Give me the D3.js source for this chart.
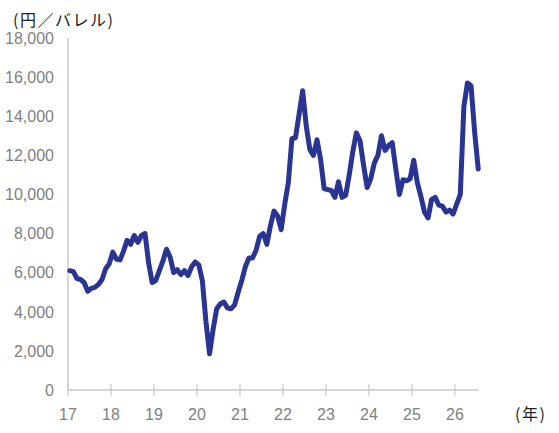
<!DOCTYPE html>
<html><head><meta charset="utf-8">
<script src="https://cdn.jsdelivr.net/npm/d3@7"></script>
<style>body{margin:0;background:#fff}svg{display:block}</style>
</head><body>
<script>
// Monthly values (円/バレル), Jan 2017 onward
const values = [
 6100,6050,5700,5650,5500,5050,5200,5250,5400,5650,6200,6450,
 7050,6700,6650,7100,7650,7450,7900,7550,7900,8000,6500,5500,
 5600,6100,6600,7200,6800,6000,6150,5900,6100,5850,6300,6550,
 6400,5600,3500,1850,3100,4150,4400,4500,4200,4150,4350,5000,
 5600,6300,6750,6750,7150,7850,8000,7450,8400,9150,8900,8200,
 9500,10600,12850,12900,14100,15300,13500,12300,12000,12800,11800,10300,
 10250,10200,9850,10650,9850,9950,11000,12200,13150,12750,11500,10350,
 10800,11600,12000,13000,12250,12500,12650,11300,10000,10750,10700,10800,
 11750,10600,9900,9100,8800,9750,9850,9450,9400,9100,9200,9000,
 9500,10000,14500,15700,15550,13200,11300
];
const startYear = 17;
const yearTicks = [17,18,19,20,21,22,23,24,25,26];
const yTicks = [0,2000,4000,6000,8000,10000,12000,14000,16000,18000];
const yLabel = "(円／バレル)";
const xLabel = "(年)";

const W = 559, H = 433;
const svg = d3.select("body").append("svg").attr("width", W).attr("height", H);
const x = d3.scaleLinear().domain([17, 26.56]).range([68, 479]);
const y = d3.scaleLinear().domain([0, 18000]).range([390, 38]);
const numFont = "'Liberation Sans Narrow','Liberation Sans',Arial,sans-serif";

// y axis line
svg.append("line").attr("x1", x(17)).attr("x2", x(17)).attr("y1", y(18000)).attr("y2", y(0))
  .attr("stroke", "#b0b0b0").attr("stroke-width", 1);
// y labels
svg.selectAll("text.yl").data(yTicks).enter().append("text")
  .attr("x", 54).attr("y", d => y(d)).attr("dy", "0.36em")
  .attr("text-anchor", "end").attr("fill", "#808080")
  .style("font-family", numFont).style("font-size", "16px")
  .text(d => d3.format(",")(d));

// x axis
svg.append("line").attr("x1", x(17)).attr("x2", x(26.56)).attr("y1", y(0)).attr("y2", y(0))
  .attr("stroke", "#c8c8c8").attr("stroke-width", 1.5);
svg.selectAll("line.xt").data(yearTicks).enter().append("line")
  .attr("x1", d => x(d)).attr("x2", d => x(d)).attr("y1", y(0) - 6).attr("y2", y(0) + 6)
  .attr("stroke", "#c8c8c8").attr("stroke-width", 1.2);
svg.selectAll("text.xl").data(yearTicks).enter().append("text")
  .attr("x", d => x(d)).attr("y", 420)
  .attr("text-anchor", "middle").attr("fill", "#808080")
  .style("font-family", numFont).style("font-size", "16px")
  .text(d => d);

// line
const line = d3.line()
  .x((d, i) => x(startYear + (i + 0.5) / 12))
  .y(d => y(d));
svg.append("path").datum(values).attr("d", line)
  .attr("fill", "none").attr("stroke", "#2A3593").attr("stroke-width", 5)
  .attr("stroke-linejoin", "round").attr("stroke-linecap", "round");

// labels
svg.append("text").attr("x", 13).attr("y", 26)
  .style("font-family", "'Noto Sans CJK JP',sans-serif").style("font-size", "16px")
  .style("letter-spacing", "1.5px")
  .attr("fill", "#222").text(yLabel);
svg.append("text").attr("x", 515).attr("y", 420)
  .style("font-family", "'Noto Sans CJK JP',sans-serif").style("font-size", "16px")
  .style("letter-spacing", "1.5px")
  .attr("fill", "#222").text(xLabel);
</script>
</body></html>
